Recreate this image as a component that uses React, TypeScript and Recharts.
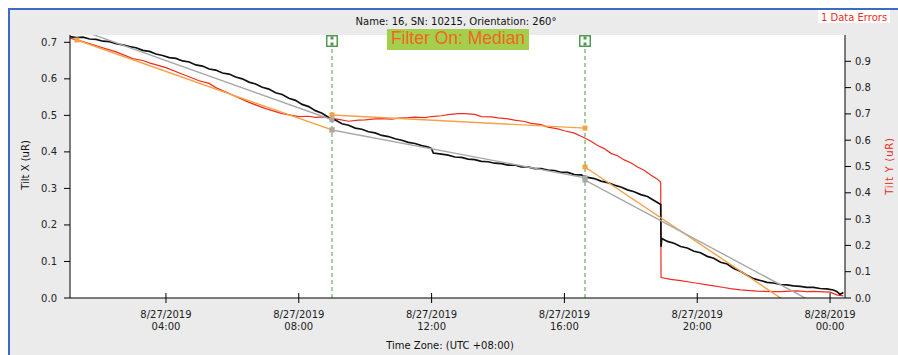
import React from 'react';
import { LineChart, Line, XAxis, YAxis, CartesianGrid, ReferenceLine } from 'recharts';

// hours since 8/27/2019 00:00 (UTC+08:00)
const tiltXHours = [
  1.1, 1.3, 1.5, 1.7, 1.9, 2.1, 2.3, 2.5, 2.7, 2.9, 3.1, 3.3, 3.5, 3.7, 3.9, 4.1, 4.3, 4.5, 4.7, 4.9,
  5.1, 5.3, 5.5, 5.7, 5.9, 6.1, 6.3, 6.5, 6.7, 6.9, 7.1, 7.3, 7.5, 7.7, 7.9, 8.1, 8.3, 8.5, 8.7, 8.9,
  9.1, 9.3, 9.5, 9.7, 9.9, 10.1, 10.3, 10.5, 10.7, 10.9, 11.1, 11.3, 11.5, 11.7, 11.9, 12.0, 12.05, 12.3, 12.5, 12.7,
  12.9, 13.1, 13.3, 13.5, 13.7, 13.9, 14.1, 14.3, 14.5, 14.7, 14.9, 15.1, 15.3, 15.5, 15.7, 15.9, 16.1, 16.3, 16.5, 16.7,
  16.9, 17.1, 17.3, 17.5, 17.7, 17.9, 18.1, 18.3, 18.5, 18.7, 18.9, 18.91, 18.93, 19.1, 19.3, 19.5, 19.7, 19.9, 20.1, 20.3,
  20.5, 20.7, 20.9, 21.1, 21.3, 21.5, 21.7, 21.9, 22.1, 22.3, 22.5, 22.7, 22.9, 23.1, 23.3, 23.5, 23.7, 23.9, 24.1, 24.2,
  24.3, 24.4,
];
const tiltXValues = [
  0.716, 0.713, 0.714, 0.709, 0.708, 0.703, 0.702, 0.696, 0.693, 0.688, 0.685, 0.678, 0.675, 0.668, 0.664, 0.658, 0.656, 0.649, 0.646, 0.638,
  0.635, 0.627, 0.624, 0.616, 0.613, 0.605, 0.6, 0.591, 0.586, 0.577, 0.572, 0.562, 0.557, 0.547, 0.541, 0.53, 0.524, 0.513, 0.506, 0.494,
  0.487, 0.477, 0.473, 0.465, 0.462, 0.455, 0.452, 0.445, 0.442, 0.436, 0.432, 0.426, 0.423, 0.417, 0.413, 0.409, 0.397, 0.394, 0.391, 0.386,
  0.385, 0.38, 0.379, 0.374, 0.373, 0.369, 0.368, 0.364, 0.364, 0.359, 0.359, 0.354, 0.354, 0.35, 0.349, 0.344, 0.344, 0.338, 0.337, 0.33,
  0.327, 0.32, 0.316, 0.309, 0.304, 0.296, 0.291, 0.283, 0.278, 0.267, 0.256, 0.14, 0.163, 0.155, 0.15, 0.141, 0.137, 0.128, 0.124, 0.114,
  0.109, 0.098, 0.093, 0.081, 0.073, 0.062, 0.053, 0.048, 0.043, 0.041, 0.037, 0.036, 0.033, 0.032, 0.029, 0.029, 0.026, 0.025, 0.022, 0.018,
  0.01, 0.015,
];

const tiltYHours = [
  1.1, 1.5, 2.0, 2.5, 3.0, 3.3, 3.5, 4.0, 4.5, 5.0, 5.3, 5.5, 6.0, 6.5, 7.0, 7.5, 8.0, 8.3, 8.5, 8.8,
  9.0, 9.2, 9.5, 9.8, 10.0, 10.3, 10.5, 10.8, 11.0, 11.3, 11.5, 11.8, 12.0, 12.3, 12.5, 12.8, 13.0, 13.3, 13.5, 13.8,
  14.0, 14.3, 14.5, 14.8, 15.0, 15.3, 15.5, 15.8, 16.0, 16.3, 16.6, 16.8, 17.0, 17.2, 17.4, 17.6, 17.8, 18.0, 18.2, 18.4,
  18.6, 18.8, 18.9, 18.91, 19.2, 19.5, 19.8, 20.0, 20.3, 20.5, 20.8, 21.0, 21.3, 21.5, 21.8, 22.0, 22.3, 22.5, 22.8, 23.0,
  23.3, 23.5, 23.8, 24.0, 24.2, 24.4,
];
const tiltYValues = [
  0.988, 0.975, 0.955, 0.936, 0.91, 0.903, 0.894, 0.876, 0.851, 0.826, 0.816, 0.8, 0.772, 0.744, 0.72, 0.701, 0.69, 0.691, 0.687, 0.689,
  0.683, 0.679, 0.672, 0.676, 0.677, 0.681, 0.682, 0.68, 0.684, 0.686, 0.688, 0.686, 0.69, 0.693, 0.697, 0.701, 0.701, 0.698, 0.69, 0.689,
  0.685, 0.681, 0.676, 0.671, 0.664, 0.659, 0.65, 0.643, 0.636, 0.627, 0.609, 0.596, 0.58, 0.568, 0.55, 0.541, 0.525, 0.514, 0.498, 0.486,
  0.468, 0.452, 0.44, 0.078, 0.071, 0.066, 0.06, 0.056, 0.05, 0.046, 0.04, 0.036, 0.031, 0.029, 0.026, 0.025, 0.024, 0.024, 0.026, 0.027,
  0.024, 0.025, 0.023, 0.022, 0.012, 0.008,
];

// piecewise fits, split at the two filter markers
const markerHours = [9.0, 16.62];
const fitXSegments = [
  [[1.1, 0.744], [9.0, 0.488]],
  [[9.0, 0.46], [16.62, 0.329]],
  [[16.62, 0.323], [24.4, -0.056]],
];
const fitYSegments = [
  [[1.32, 0.981], [9.0, 0.639]],
  [[9.0, 0.696], [16.62, 0.646]],
  [[16.62, 0.498], [24.4, -0.16]],
];

const xTicks = [4, 8, 12, 16, 20, 24];
const xTickDates = ['8/27/2019', '8/27/2019', '8/27/2019', '8/27/2019', '8/27/2019', '8/28/2019'];
const xTickTimes = ['04:00', '08:00', '12:00', '16:00', '20:00', '00:00'];
const leftTicks = [0, 0.1, 0.2, 0.3, 0.4, 0.5, 0.6, 0.7];
const rightTicks = [0, 0.1, 0.2, 0.3, 0.4, 0.5, 0.6, 0.7, 0.8, 0.9];

const FONT = '"DejaVu Sans", Verdana, sans-serif';
const RED = '#ee2c22';
const ORANGE = '#f5a246';
const GRAY = '#a8a8a8';
const GREEN = '#4f9a4f';

const toPoints = (hours: number[], values: number[]) => hours.map((h, i) => ({ h, v: values[i] }));
const tiltX = toPoints(tiltXHours, tiltXValues);
const tiltY = toPoints(tiltYHours, tiltYValues);
const seg = (pts: number[][]) => pts.map(([h, v]) => ({ h, v }));

const squareDot = (color: string) => (props: any) => {
  const { cx, cy, index } = props;
  if (cx == null || cy == null) return <g key={index} />;
  return <rect key={index} x={cx - 2.5} y={cy - 2.5} width={5} height={5} fill={color} />;
};

const TimeTick = (props: any) => {
  const { x, y, payload } = props;
  const i = xTicks.indexOf(payload.value);
  const axisY = y - 8;
  return (
    <g>
      <line x1={x} x2={x} y1={axisY - 5} y2={axisY} stroke="#000" />
      <text x={x} y={y} textAnchor="middle" fontSize={10} fontFamily={FONT} fill="#222">
        <tspan x={x} dy={12}>{xTickDates[i]}</tspan>
        <tspan x={x} dy={11.5}>{xTickTimes[i]}</tspan>
      </text>
    </g>
  );
};

const FlagLabel = (props: any) => {
  const vb = props.viewBox || {};
  const x = vb.x;
  const y = vb.y;
  return (
    <g>
      <rect x={x - 6} y={y} width={12} height={12} fill={GREEN} />
      <rect x={x - 4.5} y={y + 1.5} width={9} height={9} fill="#fff" />
      <rect x={x - 1.5} y={y + 1.5} width={3} height={3} fill={GREEN} />
      <rect x={x - 1.5} y={y + 7.5} width={3} height={3} fill={GREEN} />
    </g>
  );
};

export default function App() {
  return (
    <div
      style={{
        position: 'absolute',
        left: 8,
        top: 8,
        width: 888,
        height: 345,
        borderTop: '2px solid #3c6bc4',
        borderLeft: '2px solid #3c6bc4',
        background: '#ebebeb',
        overflow: 'hidden',
      }}
    >
      <div style={{ position: 'absolute', left: 0, top: 0 }}>
        <LineChart width={888} height={345} margin={{ top: 25, right: 0, bottom: 0, left: 0 }}>
          <CartesianGrid fill="#fff" stroke="none" yAxisId="left" />
          <XAxis
            dataKey="h"
            type="number"
            domain={[1.11, 24.45]}
            allowDataOverflow
            ticks={xTicks}
            height={57}
            tickSize={5}
            tickMargin={3}
            stroke="#000"
            tick={<TimeTick />}
          />
          <YAxis
            yAxisId="left"
            orientation="left"
            type="number"
            domain={[0, 0.72]}
            allowDataOverflow
            ticks={leftTicks}
            width={60}
            tickSize={6}
            tickMargin={7}
            stroke="#000"
            tickFormatter={(v: number) => v.toFixed(1)}
            tick={{ fontSize: 10, fontFamily: FONT, fill: '#222' }}
          />
          <YAxis
            yAxisId="right"
            orientation="right"
            type="number"
            domain={[0, 1]}
            allowDataOverflow
            ticks={rightTicks}
            width={53}
            tickSize={6}
            tickMargin={4}
            stroke="#000"
            tickFormatter={(v: number) => v.toFixed(1)}
            tick={{ fontSize: 10, fontFamily: FONT, fill: '#222' }}
          />
          {markerHours.map((h) => (
            <ReferenceLine
              key={h}
              x={h}
              yAxisId="left"
              stroke={GREEN}
              strokeDasharray="4 3"
              label={<FlagLabel />}
            />
          ))}
          <Line
            yAxisId="right"
            data={tiltY}
            dataKey="v"
            stroke={RED}
            strokeWidth={1.2}
            dot={false}
            isAnimationActive={false}
          />
          <Line
            yAxisId="left"
            data={tiltX}
            dataKey="v"
            stroke="#111"
            strokeWidth={1.7}
            dot={false}
            isAnimationActive={false}
          />
          {fitYSegments.map((s, i) => (
            <Line
              key={'fy' + i}
              yAxisId="right"
              data={seg(s)}
              dataKey="v"
              stroke={ORANGE}
              strokeWidth={1.4}
              dot={squareDot(ORANGE)}
              isAnimationActive={false}
            />
          ))}
          {fitXSegments.map((s, i) => (
            <Line
              key={'fx' + i}
              yAxisId="left"
              data={seg(s)}
              dataKey="v"
              stroke={GRAY}
              strokeWidth={1.4}
              dot={squareDot(GRAY)}
              isAnimationActive={false}
            />
          ))}
        </LineChart>
      </div>
      <svg
        width={888}
        height={345}
        style={{ position: 'absolute', left: 0, top: 0, pointerEvents: 'none' }}
      >
        <text x={446} y={15} textAnchor="middle" fontSize={10} fontFamily={FONT} fill="#111">
          Name: 16, SN: 10215, Orientation: 260°
        </text>
        <rect x={808} y={0} width={72} height={13} fill="#fff" />
        <text x={844} y={11} textAnchor="middle" fontSize={10} fontFamily={FONT} fill={RED}>
          1 Data Errors
        </text>
        <rect x={377} y={19} width={142} height={21} fill="#a4cf4d" />
        <text
          x={448}
          y={34}
          textAnchor="middle"
          fontSize={17.5}
          fontFamily='"Liberation Sans", Arial, sans-serif'
          fill="#f26522"
        >
          Filter On: Median
        </text>
        <text x={440} y={339} textAnchor="middle" fontSize={10} fontFamily={FONT} fill="#111">
          Time Zone: (UTC +08:00)
        </text>
        <text
          transform="translate(15,155) rotate(-90)"
          x={0}
          y={3.6}
          textAnchor="middle"
          fontSize={10}
          fontFamily={FONT}
          fill="#111"
        >
          Tilt X (uR)
        </text>
        <text
          transform="translate(879,156) rotate(-90)"
          x={0}
          y={3.6}
          textAnchor="middle"
          fontSize={10}
          fontFamily={FONT}
          letterSpacing={0.8}
          fill={RED}
        >
          Tilt Y (uR)
        </text>
      </svg>
    </div>
  );
}
